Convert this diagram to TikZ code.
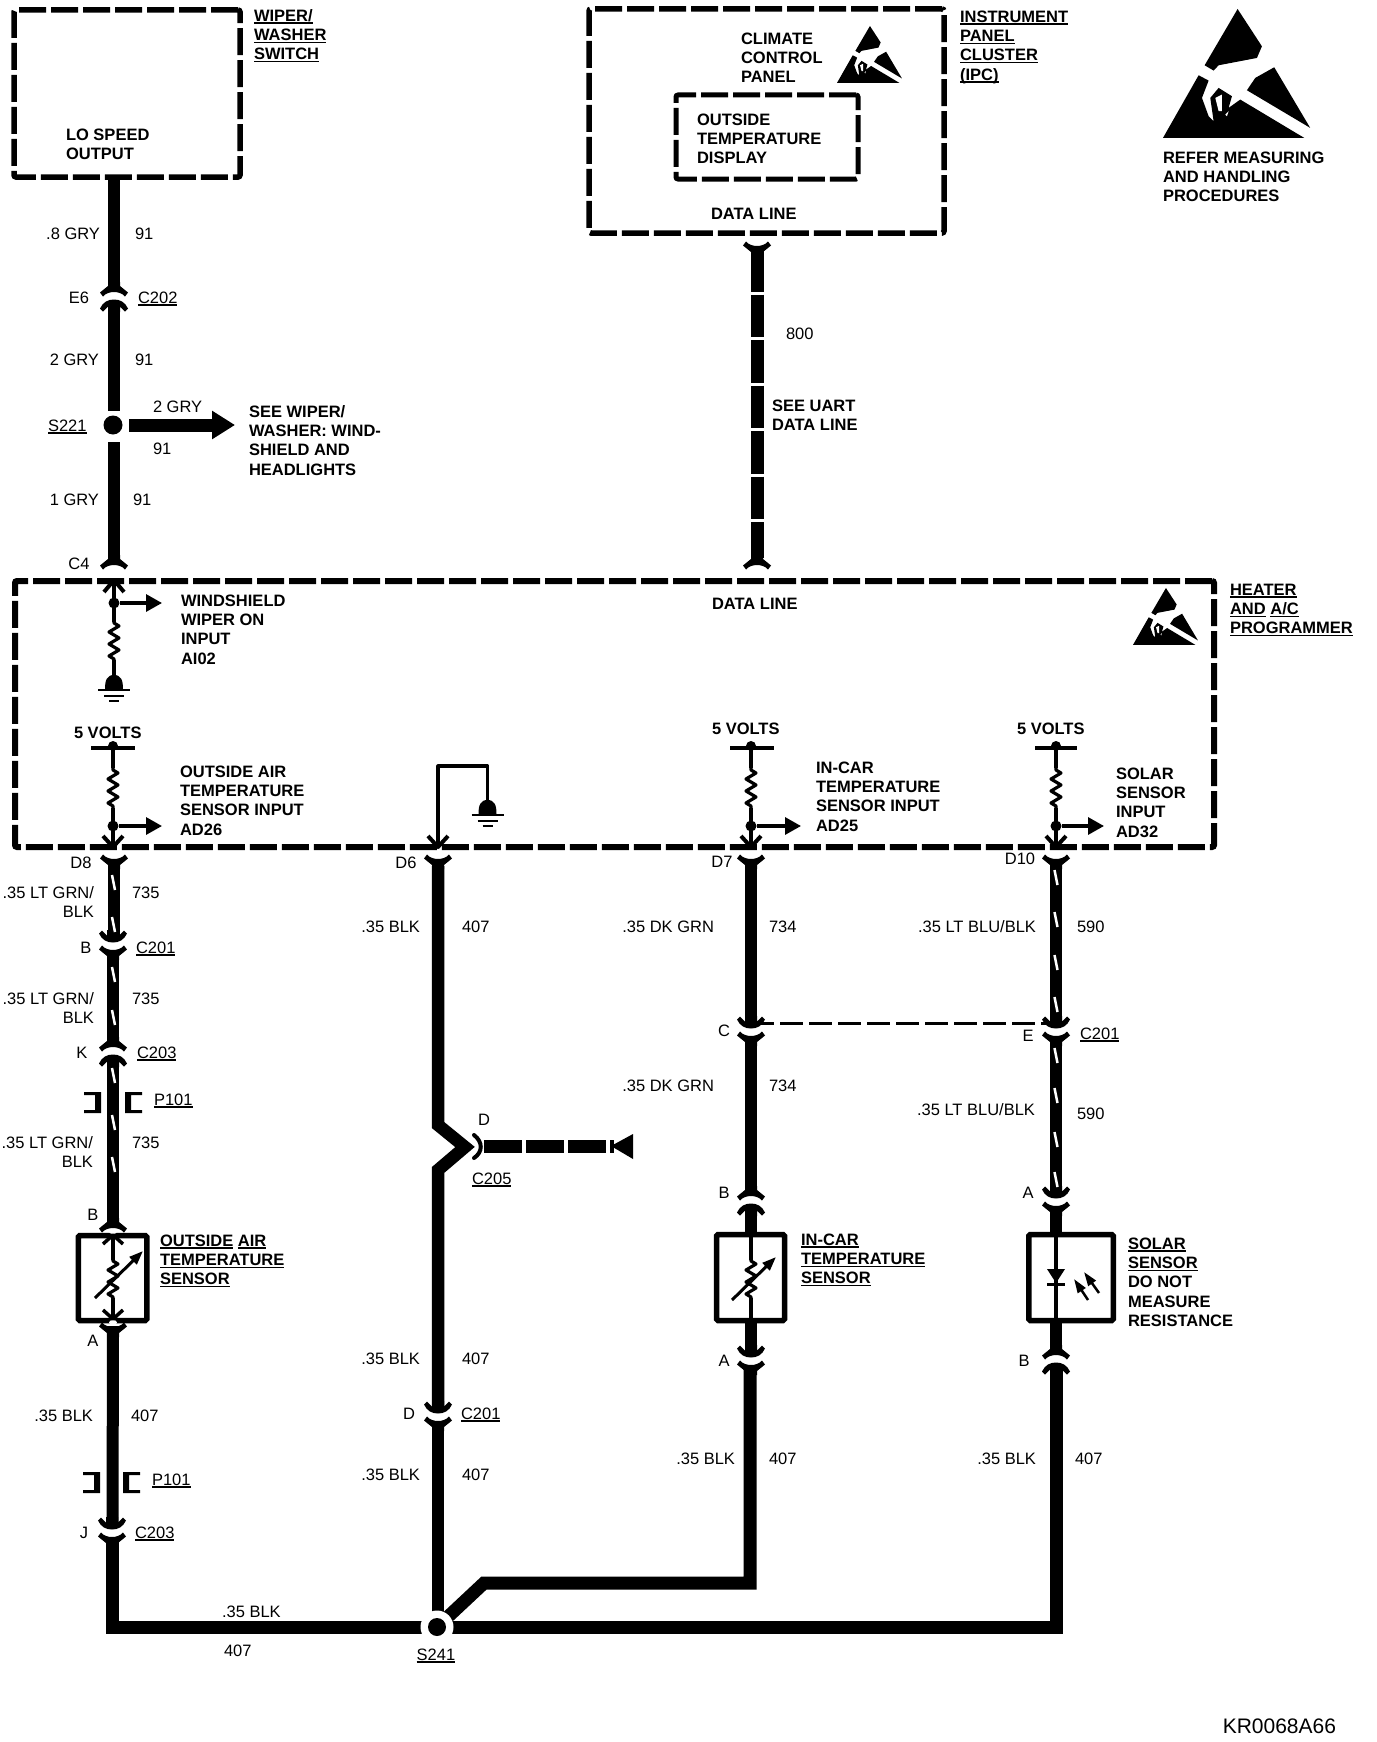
\documentclass[tikz,border=0pt]{standalone}
\usepackage{fontspec}
\setmainfont{Liberation Sans}
\usetikzlibrary{arrows.meta}
\newcommand\ulx[1]{\leavevmode\setbox0=\hbox{#1}\rlap{\rule[-2.6pt]{\wd0}{1.6pt}}\box0 }
% name, anchor style, x, y (centre of the first line), text
\newcommand\T[5]{\node[txt,#2] (#1) at (#3,#4-6.25) {\rule{0pt}{12.5pt}#5};}
\newcommand\dnc[3]{\coordinate (#1) at (#2,#3);
  \pic at (#2,#3-2) {conhead}; \pic at (#2,#3+2) {conflare};}
\newcommand\upc[3]{\coordinate (#1) at (#2,#3);
  \pic[yscale=-1] at (#2,#3+2) {conhead}; \pic[yscale=-1] at (#2,#3-2) {conflare};}
\newcommand\stripes[2]{\foreach \yy in {#2} {\draw[tracer] (#1-1.5,\yy) -- (#1+1.5,\yy+15);}}
\tikzset{
  txt/.style={inner sep=0pt,outer sep=0pt,align=left,font=\fontsize{16.5pt}{19.3pt}\selectfont},
  bf/.style={font=\fontsize{16.5pt}{19.3pt}\selectfont\bfseries},
  tl/.style={anchor=north west},
  tr/.style={anchor=north east,align=right},
  tc/.style={anchor=north},
  wire/.style={line width=12pt,line cap=butt,line join=miter},
  thinw/.style={line width=3.2pt,line join=round},
  tracer/.style={white,line width=2.5pt},
  dbox/.style={draw,line width=5.5pt,dash pattern=on 27pt off 5pt,rounded corners=2pt,
     inner sep=0pt,outer sep=0pt},
  senbox/.style={draw,line width=5.5pt,rounded corners=1.5pt,inner sep=0pt,outer sep=0pt},
  jdot/.style={circle,fill=black,inner sep=0pt,outer sep=0pt},
  sarrow/.style={thinw,-{Triangle[length=16pt,width=17pt]}},
  varrow/.style={line width=3pt,-{Triangle[length=14pt,width=10pt]}},
  conhead/.pic={\fill (-6,-13) -- (-6,-7.5) -- (-11,-12.5) -- (-14,-9.5) .. controls (-11,-3) and (-6,-0.5) .. (0,-0.5)
      .. controls (6,-0.5) and (11,-3) .. (14,-9.5) -- (11,-12.5) -- (6,-7.5) -- (6,-13) -- cycle;},
  conflare/.pic={\fill (-6,13) -- (-6,9) -- (-14,2.5) -- (-11,-1.5) .. controls (-6,4.5) and (6,4.5) .. (11,-1.5)
      -- (14,2.5) -- (6,9) -- (6,13) -- cycle;},
  zigz/.pic={\draw[thinw] (0,0) -- (0,3) -- (5,6) -- (-5,12) -- (5,18) -- (-5,24) -- (5,30) -- (-5,36) -- (0,39) -- (0,42);},
  gnd/.pic={\fill (-9,14) .. controls (-9,5) and (-7,0) .. (0,0) .. controls (7,0) and (9,5) .. (9,14) -- cycle;
      \draw[line width=2.6pt] (-16,15) -- (16,15) (-10,21) -- (10,21) (-5,26) -- (5,26);},
  brk/.pic={\fill (0,0) -- (17,0) -- (17,21) -- (0,21) -- (0,18) -- (11,18) -- (11,3) -- (0,3) -- cycle;},
  esd/.pic={\fill[line join=round] (224,0) -- (297,112) -- (282,147) -- (167,169) -- (152,185) -- (125,169) -- cycle;
      \fill (0,387) -- (107,199) -- (137,215) -- (117,267) -- (137,322) -- (152,337) -- (142,267) -- (167,237)
        -- (207,262) -- (197,297) -- (232,272) -- (424,387) -- cycle;
      \fill (334,175) -- (442,357) -- (252,244) -- (277,207) -- cycle;
      \fill[white] (157,267) -- (177,257) -- (177,307) -- (167,307) -- cycle;
      \fill[white] (187,317) -- (197,307) -- (192,322) -- cycle;},
}
\begin{document}
\begin{tikzpicture}[x=1pt,y=-1pt]
\useasboundingbox (0,0) rectangle (1376,1742);
\fill[white] (0,0) rectangle (1376,1742);

% --- boxes
\node[dbox,minimum width=226pt,minimum height=167pt] (wiper) at (127,93.5) {};
\node[dbox,minimum width=355pt,minimum height=224pt] (ipc) at (766.5,121) {};
\node[dbox,line width=5pt,minimum width=182pt,minimum height=84pt] (disp) at (767,137) {};
\node[dbox,line width=6pt,minimum width=1199pt,minimum height=266pt] (prog) at (614.5,714) {};

% --- ESD symbols
\pic[scale=0.333] at (1163,9) {esd};
\pic[scale=0.147] at (837,26) {esd};
\pic[scale=0.147] at (1133,588) {esd};

% --- connectors
\upc{cA}{114}{297}
\dnc{cB}{113}{945}
\upc{cK}{113}{1052}
\dnc{cJ}{112}{1532}
\dnc{cD}{438}{1416}
\dnc{cC}{751}{1031}
\dnc{cE}{1056}{1031}
\upc{cB2}{751}{1201}
\dnc{cA2}{1056}{1201}
\dnc{cA3}{751}{1360}
\upc{cB3}{1056}{1360}
\pic[yscale=-1] at (114,568) {conflare};
\pic[yscale=-1] at (757,568) {conflare};
\pic at (757,243) {conflare};
\pic at (114,856) {conflare};
\pic at (438,856) {conflare};
\pic at (751,856) {conflare};
\pic at (1056,856) {conflare};

% --- main wires
\coordinate (w1a) at (114,177);
\coordinate (w1b) at (114,290);
\coordinate (w1c) at (114,305);
\coordinate (w1d) at (114,411);
\coordinate (w1e) at (114,442);
\coordinate (w1f) at (114,558);
\draw[wire] (w1a) -- (w1b);
\draw[wire] (w1c) -- (w1d);
\draw[wire] (w1e) -- (w1f);
\node[jdot,minimum size=19pt] (s221) at (113,425) {};
\coordinate (s221a) at (129,425);
\coordinate (s221b) at (235,425);
\draw[line width=13pt,-{Triangle[length=23pt,width=27pt]}] (s221a) -- (s221b);

\coordinate (dat1) at (757,249);
\coordinate (dat2) at (757,558);
\draw[wire,line width=13pt,dash pattern=on 42.5pt off 3pt] (dat1) -- (dat2);

\draw[wire] (113.5,866) -- (113.5,935);
\draw[wire] (113,955) -- (113,1040);
\draw[wire] (113,1062) -- (113,1222);
\draw[wire] (113,1326) -- (112.5,1525);
\draw[wire,line width=13pt] (112.5,1537) -- (112.5,1627) -- (1056,1627) -- (1056,1368);
\draw[wire,line width=12.5pt] (438,866) -- (438,1125) -- (465,1147) -- (438,1170) -- (438,1408);
\draw[wire] (438,1424) -- (438,1627);
\draw[wire,line width=13pt] (437,1627) -- (484,1583) -- (750,1583) -- (750,1366);
\draw[wire] (751,866) -- (751,1022);
\draw[wire] (751,1040) -- (751,1192);
\draw[wire] (751,1210) -- (751,1234);
\draw[wire] (751,1321) -- (751,1350);
\draw[wire] (1056,866) -- (1056,1022);
\draw[wire] (1056,1040) -- (1056,1192);
\draw[wire] (1056,1210) -- (1056,1234);
\draw[wire] (1056,1321) -- (1056,1350);
\node[jdot,fill=white,minimum size=33pt] (halo) at (437,1627) {};
\node[jdot,minimum size=18pt] (s241) at (437,1627) {};

% tracers
\stripes{113.5}{875,917,967,1010,1068,1115,1157}
\stripes{1056}{870,912,955,997,1048,1088,1132,1172}

% dashed shield line
\draw[line width=3pt,dash pattern=on 23pt off 6pt] (cC)++(0,-8) -- (1056,1023);

% C205 branch
\draw[line width=4pt,line cap=round] (474,1135) .. controls (483,1142) and (483,1152) .. (474,1158);
\coordinate (br1) at (484,1146);
\coordinate (br2) at (614,1146);
\draw[wire,line width=13pt,dash pattern=on 38pt off 4pt] (br1) -- (br2);
\fill (611,1146) -- (633,1134) -- (633,1159) -- cycle;

% --- programmer internals: wiper input
\draw[line width=4pt,line join=round] (104,592) -- (114,580) -- (124,592);
\draw[thinw] (114,580) -- (114,622);
\pic at (114,620) {zigz};
\draw[thinw] (114,660) -- (114,676);
\pic at (114,675) {gnd};
\node[jdot,minimum size=11pt] (wdot) at (114,603) {};
\coordinate (wout) at (162,603);
\draw[sarrow] (wdot) -- (wout);

% outside air input
\draw[thinw] (91,748) -- (135,748);
\node[jdot,minimum size=10pt] (v1) at (113,746) {};
\draw[thinw] (113,746) -- (113,768);
\pic at (113,767) {zigz};
\draw[thinw] (113,808) -- (113,846);
\draw[line width=4pt,line join=round] (103,836) -- (113,847) -- (123,836);
\node[jdot,minimum size=11pt] (adot) at (113,826) {};
\coordinate (aout) at (162,826);
\draw[sarrow] (adot) -- (aout);

% ground at D6
\coordinate (g6a) at (438,847);
\coordinate (g6b) at (438,766);
\coordinate (g6c) at (487.5,766);
\coordinate (g6d) at (487.5,801);
\draw[thinw] (g6a) -- (g6b) -- (g6c) -- (g6d);
\draw[line width=4pt,line join=round] (428,836) -- (438,847) -- (448,836);
\pic at (487.5,800) {gnd};

% in-car input
\draw[thinw] (730,748) -- (774,748);
\node[jdot,minimum size=10pt] (v2) at (751,746) {};
\draw[thinw] (751,746) -- (751,768);
\pic at (751,767) {zigz};
\draw[thinw] (751,808) -- (751,846);
\draw[line width=4pt,line join=round] (741,836) -- (751,847) -- (761,836);
\node[jdot,minimum size=11pt] (bdot) at (751,826) {};
\coordinate (bout) at (801,826);
\draw[sarrow] (bdot) -- (bout);

% solar input
\draw[thinw] (1035,748) -- (1077,748);
\node[jdot,minimum size=10pt] (v3) at (1056,746) {};
\draw[thinw] (1056,746) -- (1056,768);
\pic at (1056,767) {zigz};
\draw[thinw] (1056,808) -- (1056,846);
\draw[line width=4pt,line join=round] (1046,836) -- (1056,847) -- (1066,836);
\node[jdot,minimum size=11pt] (cdot) at (1056,826) {};
\coordinate (cout) at (1104,826);
\draw[sarrow] (cdot) -- (cout);

% --- sensors
\pic[yscale=-1] at (113,1231) {conflare};
\pic at (113,1324) {conflare};
\node[senbox,minimum width=68.5pt,minimum height=85pt] (oas) at (112.5,1278) {};
\fill[white] (113,1231.5) ellipse (4pt and 2.5pt);
\fill[white] (113,1322.5) ellipse (4pt and 2.5pt);
\draw[line width=3.5pt,line join=round] (103,1244) -- (113,1235) -- (123,1244);
\draw[line width=3.5pt,line join=round] (103,1310) -- (113,1319) -- (123,1310);
\draw[thinw] (113,1235) -- (113,1260);
\pic at (113,1258) {zigz};
\draw[thinw] (113,1298) -- (113,1319);
\coordinate (oa1) at (95,1298);
\coordinate (oa2) at (143,1251);
\draw[varrow] (oa1) -- (oa2);

\node[senbox,minimum width=68pt,minimum height=86pt] (ics) at (750.5,1277.5) {};
\draw[thinw] (751,1234) -- (751,1260);
\pic at (751,1258) {zigz};
\draw[thinw] (751,1298) -- (751,1322);
\coordinate (ic1) at (732,1300);
\coordinate (ic2) at (776,1257);
\draw[varrow] (ic1) -- (ic2);

\node[senbox,minimum width=84.5pt,minimum height=86pt] (sol) at (1071,1277.5) {};
\draw[thinw] (1056,1234) -- (1056,1322);
\fill (1047,1269) -- (1065,1269) -- (1056,1283) -- cycle;
\draw[line width=3pt] (1047,1284) -- (1065,1284);
\coordinate (la1) at (1099,1293);
\coordinate (la2) at (1084,1272);
\coordinate (lb1) at (1088,1300);
\coordinate (lb2) at (1074,1279);
\draw[line width=2.5pt,-{Triangle[length=14pt,width=9pt]}] (la1) -- (la2);
\draw[line width=2.5pt,-{Triangle[length=14pt,width=9pt]}] (lb1) -- (lb2);

% --- P101 grommets
\pic[xscale=1] at (84,1092) {brk};
\pic[xscale=-1] at (142,1092) {brk};
\pic[xscale=1] at (83,1472) {brk};
\pic[xscale=-1] at (140,1472) {brk};

% --- bold block texts
\T{t1}{tl,bf}{254}{15}{\ulx{WIPER/}\\\ulx{WASHER}\\\ulx{SWITCH}}
\T{t2}{tl,bf}{66}{134}{LO SPEED\\OUTPUT}
\T{t3}{tl,bf}{741}{38}{CLIMATE\\CONTROL\\PANEL}
\T{t4}{tl,bf}{697}{119}{OUTSIDE\\TEMPERATURE\\DISPLAY}
\T{t5}{tl,bf}{711}{213}{DATA LINE}
\T{t6}{tl,bf}{960}{16}{\ulx{INSTRUMENT}\\\ulx{PANEL}\\\ulx{CLUSTER}\\\ulx{(IPC)}}
\T{t7}{tl,bf}{1163}{157}{REFER MEASURING\\AND HANDLING\\PROCEDURES}
\T{t8}{tl,bf}{249}{411}{SEE WIPER/\\WASHER: WIND-\\SHIELD AND\\HEADLIGHTS}
\T{t9}{tl,bf}{772}{405}{SEE UART\\DATA LINE}
\T{t10}{tl,bf}{181}{600}{WINDSHIELD\\WIPER ON\\INPUT\\AI02}
\T{t11}{tl,bf}{712}{603}{DATA LINE}
\T{t12}{tl,bf}{1230}{589}{\ulx{HEATER}\\\ulx{AND}\ \ulx{A/C}\\\ulx{PROGRAMMER}}
\T{t13}{tl,bf}{74}{732}{5 VOLTS}
\T{t14}{tl,bf}{712}{728}{5 VOLTS}
\T{t15}{tl,bf}{1017}{728}{5 VOLTS}
\T{t16}{tl,bf}{180}{771}{OUTSIDE AIR\\TEMPERATURE\\SENSOR INPUT\\AD26}
\T{t17}{tl,bf}{816}{767}{IN-CAR\\TEMPERATURE\\SENSOR INPUT\\AD25}
\T{t18}{tl,bf}{1116}{773}{SOLAR\\SENSOR\\INPUT\\AD32}
\T{t19}{tl,bf}{160}{1240}{\ulx{OUTSIDE}\ \ulx{AIR}\\\ulx{TEMPERATURE}\\\ulx{SENSOR}}
\T{t20}{tl,bf}{801}{1239}{\ulx{IN-CAR}\\\ulx{TEMPERATURE}\\\ulx{SENSOR}}
\T{t21}{tl,bf}{1128}{1243}{\ulx{SOLAR}\\\ulx{SENSOR}\\DO NOT\\MEASURE\\RESISTANCE}

% --- wire labels, upper left
\T{a1}{tr}{100}{233}{.8 GRY}
\T{a2}{tl}{135}{233}{91}
\T{a3}{tc}{79}{297}{E6}
\T{a4}{tl}{138}{297}{\ulx{C202}}
\T{a5}{tr}{99}{359}{2 GRY}
\T{a6}{tl}{135}{359}{91}
\T{a7}{tl}{48}{425}{\ulx{S221}}
\T{a8}{tl}{153}{406}{2 GRY}
\T{a9}{tl}{153}{448}{91}
\T{a10}{tr}{99}{499}{1 GRY}
\T{a11}{tl}{133}{499}{91}
\T{a12}{tc}{79}{563}{C4}
\T{a13}{tl}{786}{333}{800}

% --- column A
\T{b1}{tc}{81}{862}{D8}
\T{b2}{tr}{94}{892}{.35 LT GRN/\\BLK}
\T{b3}{tl}{132}{892}{735}
\T{b4}{tc}{86}{947}{B}
\T{b5}{tl}{136}{947}{\ulx{C201}}
\T{b6}{tr}{94}{998}{.35 LT GRN/\\BLK}
\T{b7}{tl}{132}{998}{735}
\T{b8}{tc}{82}{1052}{K}
\T{b9}{tl}{137}{1052}{\ulx{C203}}
\T{b10}{tl}{154}{1099}{\ulx{P101}}
\T{b11}{tr}{93}{1142}{.35 LT GRN/\\BLK}
\T{b12}{tl}{132}{1142}{735}
\T{b13}{tc}{93}{1214}{B}
\T{b14}{tc}{93}{1340}{A}
\T{b15}{tr}{93}{1415}{.35 BLK}
\T{b16}{tl}{131}{1415}{407}
\T{b17}{tl}{152}{1479}{\ulx{P101}}
\T{b18}{tc}{84}{1532}{J}
\T{b19}{tl}{135}{1532}{\ulx{C203}}
\T{b20}{tl}{222}{1611}{.35 BLK}
\T{b21}{tl}{224}{1650}{407}

% --- column B
\T{c1}{tc}{406}{862}{D6}
\T{c2}{tr}{420}{926}{.35 BLK}
\T{c3}{tl}{462}{926}{407}
\T{c4}{tc}{484}{1119}{D}
\T{c5}{tl}{472}{1178}{\ulx{C205}}
\T{c6}{tr}{420}{1358}{.35 BLK}
\T{c7}{tl}{462}{1358}{407}
\T{c8}{tc}{409}{1413}{D}
\T{c9}{tl}{461}{1413}{\ulx{C201}}
\T{c10}{tr}{420}{1474}{.35 BLK}
\T{c11}{tl}{462}{1474}{407}
\T{c12}{tc}{436}{1654}{\ulx{S241}}

% --- column C
\T{d1}{tc}{722}{861}{D7}
\T{d2}{tr}{714}{926}{.35 DK GRN}
\T{d3}{tl}{769}{926}{734}
\T{d4}{tc}{724}{1030}{C}
\T{d5}{tr}{714}{1085}{.35 DK GRN}
\T{d6}{tl}{769}{1085}{734}
\T{d7}{tc}{724}{1192}{B}
\T{d8}{tc}{724}{1360}{A}
\T{d9}{tr}{735}{1458}{.35 BLK}
\T{d10}{tl}{769}{1458}{407}

% --- column D
\T{e1}{tc}{1020}{858}{D10}
\T{e2}{tr}{1036}{926}{.35 LT BLU/BLK}
\T{e3}{tl}{1077}{926}{590}
\T{e4}{tc}{1028}{1035}{E}
\T{e5}{tl}{1080}{1033}{\ulx{C201}}
\T{e6}{tr}{1035}{1109}{.35 LT BLU/BLK}
\T{e7}{tl}{1077}{1113}{590}
\T{e8}{tc}{1028}{1192}{A}
\T{e9}{tc}{1024}{1360}{B}
\T{e10}{tr}{1036}{1458}{.35 BLK}
\T{e11}{tl}{1075}{1458}{407}

\node[txt,anchor=south east,font=\fontsize{21pt}{24pt}\selectfont] (code) at (1336,1734) {KR0068A66};
\end{tikzpicture}
\end{document}
